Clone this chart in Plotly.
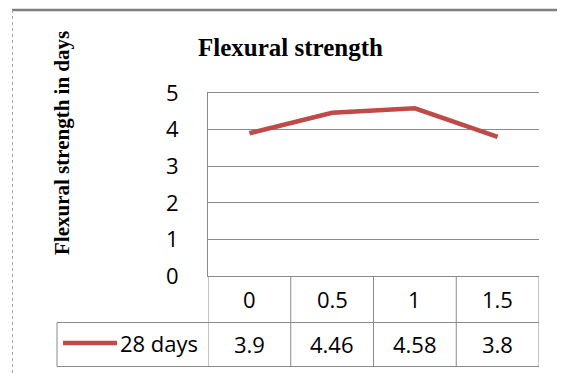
import plotly.graph_objects as go

categories = ["0", "0.5", "1", "1.5"]
series_name = "28 days"
values = [3.9, 4.46, 4.58, 3.8]
value_labels = ["3.9", "4.46", "4.58", "3.8"]
y_ticks = [0, 1, 2, 3, 4, 5]

# page body has an 8px margin; figure is sized to fit the 565x373 window
OFF = 8
W, H = 565 - OFF, 373 - OFF
# plot area in window pixels
PL, PR, PT, PB = 208, 539, 93, 276
L, R, T, B = PL - OFF, W - (PR - OFF), PT - OFF, H - (PB - OFF)
pw, ph = PR - PL, PB - PT

def px_x(x):
    return (x - PL) / pw

def px_y(y):
    return (PB - y) / ph

RED = "#BE4B48"
GRID = "#8a8a8a"
TFONT = "Open Sans"
TSIZE = 22

xpos = list(range(len(categories)))

fig = go.Figure()
fig.add_trace(go.Scatter(x=xpos, y=values, mode="lines",
                         line=dict(color=RED, width=4.5), showlegend=False,
                         hoverinfo="skip"))

row_mid = px_y(322.5)
row_bot = px_y(366.5)
shapes = []
n = len(categories)
for i in range(n + 1):
    shapes.append(dict(type="line", xref="x", yref="paper", x0=i - 0.5, x1=i - 0.5,
                       y0=row_bot, y1=0, line=dict(color=GRID, width=1)))
for yy in (row_mid, row_bot):
    shapes.append(dict(type="line", xref="paper", yref="paper", x0=px_x(57), x1=1,
                       y0=yy, y1=yy, line=dict(color=GRID, width=1)))
shapes.append(dict(type="line", xref="paper", yref="paper", x0=px_x(57), x1=px_x(57),
                   y0=row_bot, y1=row_mid, line=dict(color=GRID, width=1)))
# legend key line
shapes.append(dict(type="line", xref="paper", yref="paper", x0=px_x(63), x1=px_x(117),
                   y0=px_y(343), y1=px_y(343), line=dict(color=RED, width=4.5)))
# outer frame
shapes.append(dict(type="line", xref="paper", yref="paper", x0=px_x(12), x1=px_x(580),
                   y0=px_y(10), y1=px_y(10), line=dict(color="#7f7f7f", width=2.5)))
shapes.append(dict(type="line", xref="paper", yref="paper", x0=px_x(12.5), x1=px_x(12.5),
                   y0=px_y(10), y1=px_y(390), line=dict(color="#a6a6a6", width=1, dash="dot")))

def ann(**kw):
    base = dict(showarrow=False, xanchor="center", yanchor="middle")
    base.update(kw)
    return base

annotations = []
for i, c in enumerate(categories):
    annotations.append(ann(x=i, y=px_y(299), xref="x", yref="paper", text=c,
                           font=dict(family=TFONT, size=TSIZE, color="#000")))
for i, lab in enumerate(value_labels):
    annotations.append(ann(x=i, y=px_y(344), xref="x", yref="paper", text=lab,
                           font=dict(family=TFONT, size=TSIZE, color="#000")))
annotations.append(ann(x=px_x(200), y=px_y(343), xref="paper", yref="paper", text=series_name,
                       xanchor="right",
                       font=dict(family=TFONT, size=TSIZE, color="#000")))
annotations.append(ann(x=px_x(290), y=px_y(48), xref="paper", yref="paper",
                       text="<b>Flexural strength</b>",
                       font=dict(family="Liberation Serif", size=25, color="#000")))
annotations.append(ann(x=px_x(62), y=px_y(143), xref="paper", yref="paper",
                       text="<b>Flexural strength in days</b>", textangle=-90,
                       font=dict(family="Liberation Serif", size=21, color="#000")))

fig.update_layout(
    width=W, height=H, autosize=False,
    margin=dict(l=L, r=R, t=T, b=B, pad=0),
    paper_bgcolor="white", plot_bgcolor="white",
    shapes=shapes, annotations=annotations,
    xaxis=dict(range=[-0.5, n - 0.5], showticklabels=False, showgrid=False,
               zeroline=False, ticks="", showline=True, mirror=True,
               linecolor=GRID, linewidth=1),
    yaxis=dict(range=[0, 5], tickvals=y_ticks, showgrid=True, gridcolor=GRID, gridwidth=1,
               zeroline=False, showline=True, linecolor=GRID, linewidth=1, ticks="",
               ticklabelstandoff=24,
               tickfont=dict(family=TFONT, size=TSIZE, color="#000")),
)

fig.write_html("out.html")
